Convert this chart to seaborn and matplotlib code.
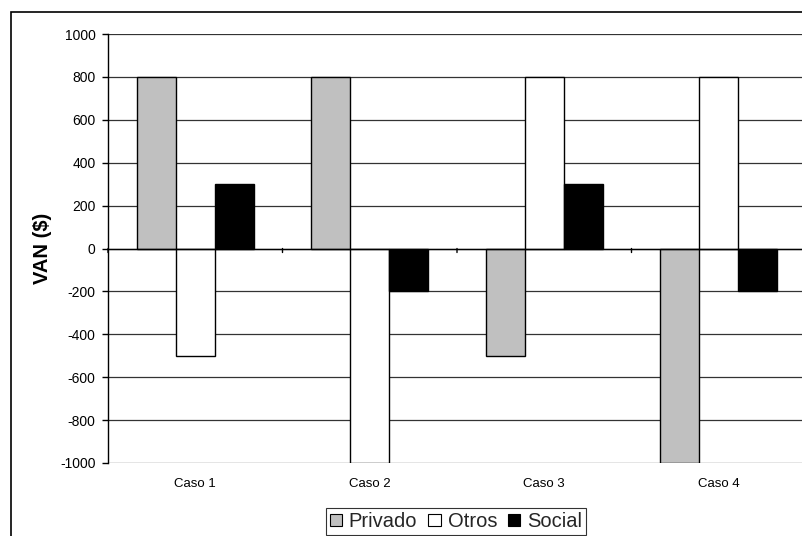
import matplotlib
matplotlib.use("Agg")
import matplotlib.pyplot as plt
from matplotlib.patches import Rectangle
import seaborn as sns
import pandas as pd

categories = ["Caso 1", "Caso 2", "Caso 3", "Caso 4"]
series = ["Privado", "Otros", "Social"]
privado = [800, 800, -500, -1000]
otros = [-500, -1000, 800, 800]
social = [300, -200, 300, -200]
colors = ["#C0C0C0", "#FFFFFF", "#000000"]
yticks = [-1000, -800, -600, -400, -200, 0, 200, 400, 600, 800, 1000]

rows = []
for name, vals in zip(series, [privado, otros, social]):
    for c, v in zip(categories, vals):
        rows.append({"Caso": c, "Serie": name, "VAN": v})
df = pd.DataFrame(rows)

sns.set_theme(style="white")
plt.rcParams["font.family"] = ["Liberation Sans", "DejaVu Sans"]

fig = plt.figure(figsize=(8.02, 5.36), dpi=100)
W, H = 802, 536
left, right, top, bottom = 108, 806, 34, 463
ax = fig.add_axes([left / W, 1 - bottom / H, (right - left) / W, (bottom - top) / H])

sns.barplot(data=df, x="Caso", y="VAN", hue="Serie", order=categories,
            hue_order=series, palette=colors, edgecolor="#000000",
            linewidth=1.0, width=0.67, saturation=1, ax=ax, legend=True,
            errorbar=None, zorder=3)

ax.set_ylim(-1000, 1000)
ax.set_xlim(-0.5, len(categories) - 0.5)
ax.set_yticks(yticks)
ax.set_yticklabels([str(t) for t in yticks], fontsize=10)
for t in yticks:
    ax.axhline(t, color="#333333", lw=0.9, zorder=1)
ax.axhline(0, color="#000000", lw=1.0, zorder=4)

for s in ["top", "right", "bottom"]:
    ax.spines[s].set_visible(False)
ax.spines["left"].set_color("#000000")
ax.spines["left"].set_linewidth(1.0)
ax.tick_params(axis="y", which="both", left=True, length=4, width=1, color="#000000", pad=5, labelcolor="#000000")
ax.tick_params(axis="x", bottom=False, length=0, pad=11, labelsize=9.5, labelcolor="#000000")
ax.set_xlabel("")
ax.set_ylabel("VAN ($)", fontsize=14.5, fontweight="bold", labelpad=6, color="#000000")

# category boundary ticks on the zero line
for i in range(len(categories) + 1):
    b = i - 0.5
    ax.annotate("", xy=(b, 0), xytext=(0, -4), textcoords="offset pixels",
                arrowprops=dict(arrowstyle="-", color="#000000", lw=1.0, shrinkA=0, shrinkB=0),
                annotation_clip=False, zorder=5)

handles, labels = ax.get_legend_handles_labels()
ax.get_legend().remove()
leg = fig.legend(handles, labels, loc="upper center", bbox_to_anchor=(456 / W, 1 - 508 / H),
                 ncol=3, frameon=True, fontsize=14.5, handlelength=0.6, handleheight=0.6,
                 handletextpad=0.35, columnspacing=0.55, borderpad=0.2, fancybox=False,
                 borderaxespad=0)
leg.get_frame().set_edgecolor("#000000")
leg.get_frame().set_linewidth(0.8)
for h in leg.legend_handles:
    h.set_edgecolor("#000000")
    h.set_linewidth(0.8)

fig.patches.append(Rectangle((11 / W, -0.1), 1.2, 1 - 12 / H + 0.1, transform=fig.transFigure,
                             fill=False, edgecolor="#000000", lw=1.2))

fig.savefig("out.png", dpi=100)
